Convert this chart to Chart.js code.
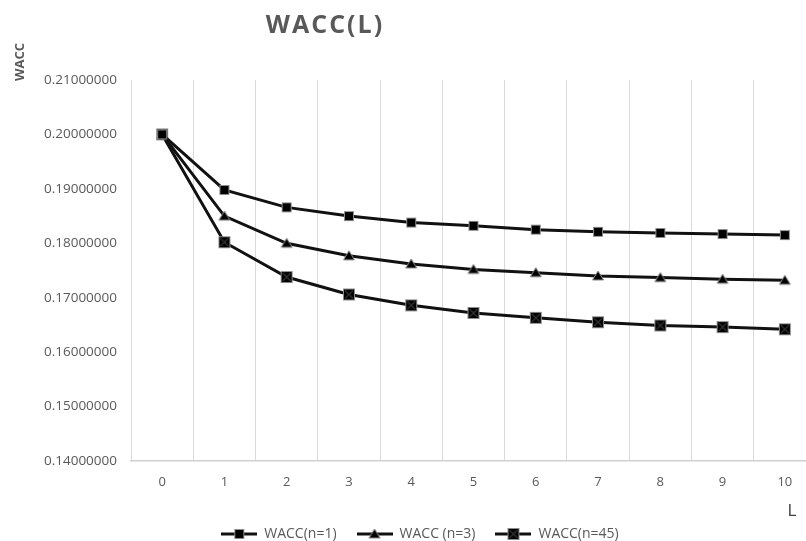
<!DOCTYPE html>
<html>
<head>
<meta charset="utf-8">
<script src="https://cdn.jsdelivr.net/npm/chart.js"></script>
<style>
  html, body { margin: 0; padding: 0; background: #fff; overflow: hidden; }
  #wrap { width: 830px; height: 541px; }
</style>
</head>
<body>
<div id="wrap"><canvas id="chart"></canvas></div>
<script>
// L values on the x axis
const levels = ['0', '1', '2', '3', '4', '5', '6', '7', '8', '9', '10'];
// WACC for each n
const waccN1  = [0.2000, 0.1898, 0.1866, 0.1850, 0.1838, 0.1832, 0.1825, 0.1821, 0.1819, 0.1817, 0.1815];
const waccN3  = [0.2000, 0.1850, 0.1800, 0.1777, 0.1762, 0.1752, 0.1746, 0.1740, 0.1737, 0.1734, 0.1732];
const waccN45 = [0.2000, 0.1802, 0.1738, 0.1706, 0.1686, 0.1672, 0.1663, 0.1655, 0.1649, 0.1646, 0.1642];
const seriesNames = ['WACC(n=1)', 'WACC (n=3)', 'WACC(n=45)'];

const FONT = "'Open Sans', 'Noto Sans', sans-serif";
const LINE = '#111111';
const EDGE = '#8c8c8c';

// draw one marker shape centred at (cx, cy)
function paintMarker(ctx, kind, cx, cy) {
  ctx.lineWidth = 1;
  ctx.strokeStyle = EDGE;
  ctx.fillStyle = '#000';
  if (kind === 'square') {
    ctx.fillRect(cx - 4.5, cy - 4.5, 9, 9);
    ctx.strokeRect(cx - 4.5, cy - 4.5, 9, 9);
  } else if (kind === 'triangle') {
    ctx.beginPath();
    ctx.moveTo(cx, cy - 5);
    ctx.lineTo(cx + 5.5, cy + 4);
    ctx.lineTo(cx - 5.5, cy + 4);
    ctx.closePath();
    ctx.fill();
    ctx.stroke();
  } else {
    ctx.fillRect(cx - 5.5, cy - 5.5, 11, 11);
    ctx.strokeRect(cx - 5.5, cy - 5.5, 11, 11);
    ctx.strokeStyle = '#333333';
    ctx.lineWidth = 1.2;
    ctx.beginPath();
    ctx.moveTo(cx - 4, cy - 4); ctx.lineTo(cx + 4, cy + 4);
    ctx.moveTo(cx + 4, cy - 4); ctx.lineTo(cx - 4, cy + 4);
    ctx.stroke();
  }
}

function marker(kind) {
  const c = document.createElement('canvas');
  c.width = 14; c.height = 14;
  paintMarker(c.getContext('2d'), kind, 7, 7);
  return c;
}

function legendMarker(kind) {
  const c = document.createElement('canvas');
  c.width = 36; c.height = 14;
  const ctx = c.getContext('2d');
  ctx.fillStyle = LINE;
  ctx.fillRect(0, 5.5, 36, 3);
  paintMarker(ctx, kind, 18, 7);
  return c;
}

const kinds = ['square', 'triangle', 'squareX'];
const values = [waccN1, waccN3, waccN45];

// free-standing texts: chart title, axis titles
const textLabels = {
  id: 'textLabels',
  afterLayout(chart) {
    // nudge the legend row a little to the right
    chart.legend.left += 12;
    chart.legend.right += 12;
  },
  afterDraw(chart) {
    const ctx = chart.ctx;
    ctx.save();
    ctx.fillStyle = '#595959';
    ctx.textAlign = 'center';
    ctx.textBaseline = 'middle';
    ctx.font = "bold 25px " + FONT;
    ctx.letterSpacing = '2px';
    ctx.fillText('WACC(L)', 325, 26);
    ctx.letterSpacing = '0px';

    ctx.fillStyle = '#404040';
    ctx.font = "17px " + FONT;
    ctx.fillText('L', 792, 511);

    ctx.translate(20, 62);
    ctx.rotate(-Math.PI / 2);
    ctx.fillStyle = '#595959';
    ctx.font = "bold 13px " + FONT;
    ctx.fillText('WACC', 0, 0);
    ctx.restore();
  }
};

new Chart(document.getElementById('chart'), {
  type: 'line',
  data: {
    labels: levels,
    datasets: values.map((v, i) => ({
      label: seriesNames[i],
      data: v,
      borderColor: LINE,
      borderWidth: 3,
      pointStyle: marker(kinds[i]),
      tension: 0,
      fill: false
    }))
  },
  options: {
    responsive: true,
    maintainAspectRatio: false,
    animation: false,
    events: [],
    layout: { padding: { top: 80, right: 14, left: 0, bottom: -10 } },
    plugins: {
      title: { display: false },
      tooltip: { enabled: false },
      legend: {
        position: 'bottom',
        labels: {
          usePointStyle: true,
          pointStyleWidth: 36,
          boxHeight: 14,
          padding: 20,
          color: '#595959',
          font: { family: FONT, size: 14 },
          generateLabels(chart) {
            return chart.data.datasets.map((ds, i) => ({
              text: ds.label,
              pointStyle: legendMarker(kinds[i]),
              fontColor: '#595959',
              datasetIndex: i,
              lineWidth: 0,
              strokeStyle: 'transparent',
              fillStyle: 'transparent'
            }));
          }
        }
      }
    },
    scales: {
      x: {
        offset: true,
        grid: { offset: true, color: '#d9d9d9', lineWidth: 1, drawTicks: false },
        border: { color: '#d0d0d0', width: 1.5 },
        ticks: { color: '#595959', font: { family: FONT, size: 13 }, padding: 13 },
        afterFit(scale) { scale.height = 46; }
      },
      y: {
        min: 0.14,
        max: 0.21,
        grid: { display: false, drawTicks: false },
        border: { display: false },
        ticks: {
          stepSize: 0.01,
          color: '#595959',
          padding: 14,
          font: { family: FONT, size: 13.5 },
          callback: v => v.toFixed(8)
        },
        afterFit(scale) { scale.width = 131; }
      }
    }
  },
  plugins: [textLabels]
});
</script>
</body>
</html>
